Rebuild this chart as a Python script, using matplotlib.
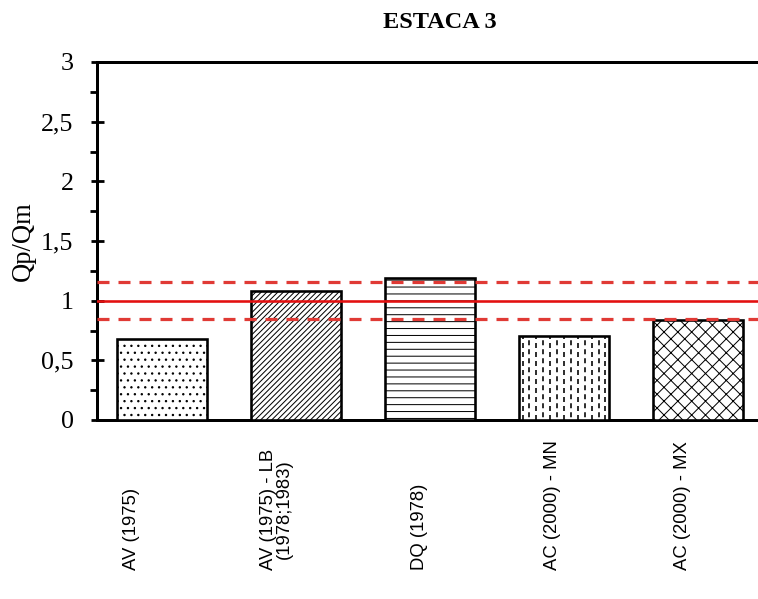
import matplotlib
matplotlib.use("Agg")
import matplotlib.pyplot as plt
from matplotlib.ticker import MultipleLocator, FuncFormatter
import numpy as np

# Qp/Qm ratio per prediction method
categories = [
    "AV (1975)",
    "AV (1975) - LB\n(1978;1983)",
    "DQ (1978)",
    "AC (2000) - MN",
    "AC (2000) - MX",
]
ratios = [0.68, 1.08, 1.19, 0.70, 0.84]
reference_ratio = 1.0
band_upper = 1.16
band_lower = 0.85

hatches = ["..", "/////", "--", None, "xx"]
label_shift = [-0.225, -0.145, -0.075, -0.085, -0.115]

DPI = 83
W_PX, H_PX = 758, 599
PT = 72.0 / DPI  # points per pixel


def px(v):
    return v * PT


plt.rcParams["hatch.linewidth"] = px(1.0)

fig = plt.figure(figsize=(W_PX / DPI, H_PX / DPI), dpi=DPI)
ax = fig.add_axes([97 / W_PX, 179 / H_PX, 670 / W_PX, 358 / H_PX])

x = np.arange(len(categories))
bars = ax.bar(x, ratios, width=0.67, facecolor="white", edgecolor="black",
              linewidth=px(2.6), zorder=3)
for bar, h in zip(bars, hatches):
    if h:
        bar.set_hatch(h)

# dashed vertical texture for the fourth bar
b4 = bars[3]
x0 = b4.get_x()
w = b4.get_width()
ncol = 13
xs = x0 + (np.arange(ncol) + 0.5) * w / ncol
for k, xv in enumerate(xs):
    off = 0 if k % 2 == 0 else px(4.5)
    ln = ax.vlines(xv, 0, b4.get_height(), colors="black", linewidth=px(1.6),
                   linestyles=[(off, (px(5) / px(1.6), px(4) / px(1.6)))], zorder=3.5)
    ln.set_clip_path(b4)

ax.axhline(reference_ratio, color="#E31010", linewidth=px(2.6), zorder=4)
dash_lw = px(3.2)
for yv in (band_upper, band_lower):
    ax.axhline(yv, color="#E03A35", linewidth=dash_lw,
               linestyle=(0, (12 / 3.2, 9 / 3.2)), zorder=4)

ax.set_xlim(-0.485, len(categories) - 0.485)
ax.set_ylim(0, 3)
ax.set_xticks([])
ax.yaxis.set_major_locator(MultipleLocator(0.5))
ax.yaxis.set_minor_locator(MultipleLocator(0.25))
ax.yaxis.set_major_formatter(FuncFormatter(lambda v, p: f"{v:g}".replace(".", ",")))
ax.tick_params(axis="y", which="major", direction="inout", length=px(13), width=px(2.8),
               pad=px(17), labelsize=px(26))
ax.tick_params(axis="y", which="minor", direction="out", length=px(7), width=px(2.8))
for lab in ax.get_yticklabels():
    lab.set_fontfamily("Liberation Serif")

for s in ax.spines.values():
    s.set_linewidth(px(3))

ax.set_ylabel("Qp/Qm", fontsize=px(26.5), fontfamily="Liberation Serif")
ax.yaxis.set_label_coords(-0.091, 0.5)

for i, (lab, dx) in enumerate(zip(categories, label_shift)):
    ax.text(i + dx, -0.419, lab, transform=ax.get_xaxis_transform(),
            rotation=90, ha="center", va="bottom", multialignment="center",
            fontsize=px(18.5), fontfamily="Liberation Sans", linespacing=0.95)

fig.text(440 / W_PX, 1 - 22 / H_PX, "ESTACA 3", ha="center", va="center",
         fontsize=px(24.3), fontweight="bold", fontfamily="Liberation Serif")

fig.savefig("out.png", dpi=DPI)
